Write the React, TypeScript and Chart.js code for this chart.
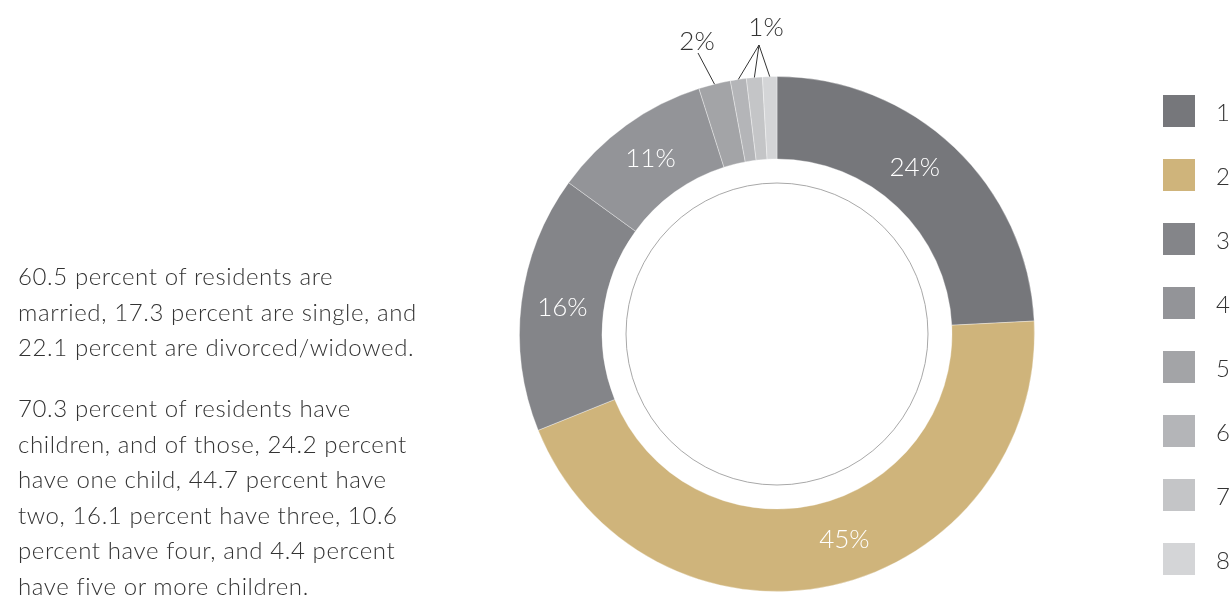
import React, { useEffect, useRef } from "react";
import { Chart, registerables } from "chart.js";

Chart.register(...registerables);

const categories = ["1", "2", "3", "4", "5", "6", "7", "8"];
const shares = [24.2, 44.7, 16.1, 10.1, 2.0, 1.0, 1.0, 0.9];
const shareLabels = ["24%", "45%", "16%", "11%", "2%", "1%", "1%", "1%"];
const colors = ["#76777b", "#cfb47b", "#848589", "#939498", "#a3a4a7", "#b4b5b8", "#c4c5c7", "#d4d5d7"];

const paragraphOne = [
  "60.5 percent of residents are",
  "married, 17.3 percent are single, and",
  "22.1 percent are divorced/widowed.",
];
const paragraphTwo = [
  "70.3 percent of residents have",
  "children, and of those, 24.2 percent",
  "have one child, 44.7 percent have",
  "two, 16.1 percent have three, 10.6",
  "percent have four, and 4.4 percent",
  "have five or more children.",
];

const FONT = "Lato, 'Open Sans', sans-serif";
const TEXT_COLOR = "#333333";

// style: small angular shifts (radians) for the inside labels
const insideShift = [-0.07, -0.1, 0, 0];

const labelPlugin = {
  id: "donutLabels",
  afterDatasetsDraw(chart: any) {
    const ctx = chart.ctx as CanvasRenderingContext2D;
    const meta = chart.getDatasetMeta(0);
    const arcs = meta.data;
    if (!arcs.length) return;
    const p0 = arcs[0].getProps(["x", "y", "innerRadius", "outerRadius"], true);
    const cx = p0.x, cy = p0.y;
    ctx.save();
    // thin inner ring
    ctx.beginPath();
    ctx.arc(cx, cy, 151, 0, Math.PI * 2);
    ctx.strokeStyle = "#a8a8a8";
    ctx.lineWidth = 1;
    ctx.stroke();

    // inside labels
    ctx.font = `300 26px ${FONT}`;
    ctx.fillStyle = "#ffffff";
    ctx.textAlign = "center";
    ctx.textBaseline = "middle";
    for (let i = 0; i < 4; i++) {
      const p = arcs[i].getProps(["startAngle", "endAngle", "innerRadius", "outerRadius"], true);
      const a = (p.startAngle + p.endAngle) / 2 + insideShift[i];
      const r = (p.innerRadius + p.outerRadius) / 2;
      ctx.fillText(shareLabels[i], cx + Math.cos(a) * r, cy + Math.sin(a) * r);
    }

    // outside labels with leader lines
    const outerPoint = (i: number) => {
      const p = arcs[i].getProps(["startAngle", "endAngle", "outerRadius"], true);
      const a = (p.startAngle + p.endAngle) / 2;
      return [cx + Math.cos(a) * p.outerRadius, cy + Math.sin(a) * p.outerRadius];
    };
    ctx.strokeStyle = "#333333";
    ctx.lineWidth = 1;
    ctx.fillStyle = "#333333";
    // "2%"
    {
      const [ex, ey] = outerPoint(4);
      ctx.beginPath();
      ctx.moveTo(cx - 79, cy - 281);
      ctx.lineTo(ex, ey);
      ctx.stroke();
      ctx.fillText(shareLabels[4], cx - 80, cy - 292);
    }
    // "1%"
    for (let i = 5; i < 8; i++) {
      const [ex, ey] = outerPoint(i);
      ctx.beginPath();
      ctx.moveTo(cx - 18, cy - 289);
      ctx.lineTo(ex, ey);
      ctx.stroke();
    }
    ctx.fillText(shareLabels[5], cx - 11, cy - 306);
    ctx.restore();
  },
};

export default function App() {
  const canvasRef = useRef<HTMLCanvasElement | null>(null);

  useEffect(() => {
    if (!canvasRef.current) return;
    const chart = new Chart(canvasRef.current, {
      type: "doughnut",
      data: {
        labels: categories,
        datasets: [
          {
            data: shares,
            backgroundColor: colors,
            borderColor: "rgba(255,255,255,0.35)",
            borderWidth: 1,
          },
        ],
      },
      options: {
        responsive: false,
        animation: false,
        cutout: 175,
        layout: { padding: { left: 519, right: 197, top: 76, bottom: 5 } },
        plugins: {
          legend: { display: false },
          tooltip: { enabled: false },
        },
        events: [],
      },
      plugins: [labelPlugin],
    });
    return () => chart.destroy();
  }, []);

  const textStyle: React.CSSProperties = {
    position: "absolute",
    left: 18,
    margin: 0,
    fontFamily: FONT,
    fontWeight: 300,
    fontSize: 24,
    letterSpacing: "0.6px",
    lineHeight: "35.6px",
    color: TEXT_COLOR,
    whiteSpace: "nowrap",
  };

  return (
    <div style={{ position: "absolute", left: 0, top: 0, width: 1232, height: 597, background: "#fff", overflow: "hidden" }}>
      <canvas ref={canvasRef} width={1232} height={597} style={{ position: "absolute", left: 0, top: 0 }} />
      <div style={{ ...textStyle, top: 258 }}>
        {paragraphOne.map((l, i) => (
          <div key={i}>{l}</div>
        ))}
      </div>
      <div style={{ ...textStyle, top: 390 }}>
        {paragraphTwo.map((l, i) => (
          <div key={i}>{l}</div>
        ))}
      </div>
      {categories.map((c, i) => (
        <div key={c} style={{ position: "absolute", left: 1163, top: 95 + 64 * i, height: 32, display: "flex", alignItems: "center" }}>
          <div style={{ width: 32, height: 32, background: colors[i] }} />
          <div style={{ marginLeft: 21, fontFamily: FONT, fontWeight: 300, fontSize: 24, color: TEXT_COLOR }}>{c}</div>
        </div>
      ))}
    </div>
  );
}
